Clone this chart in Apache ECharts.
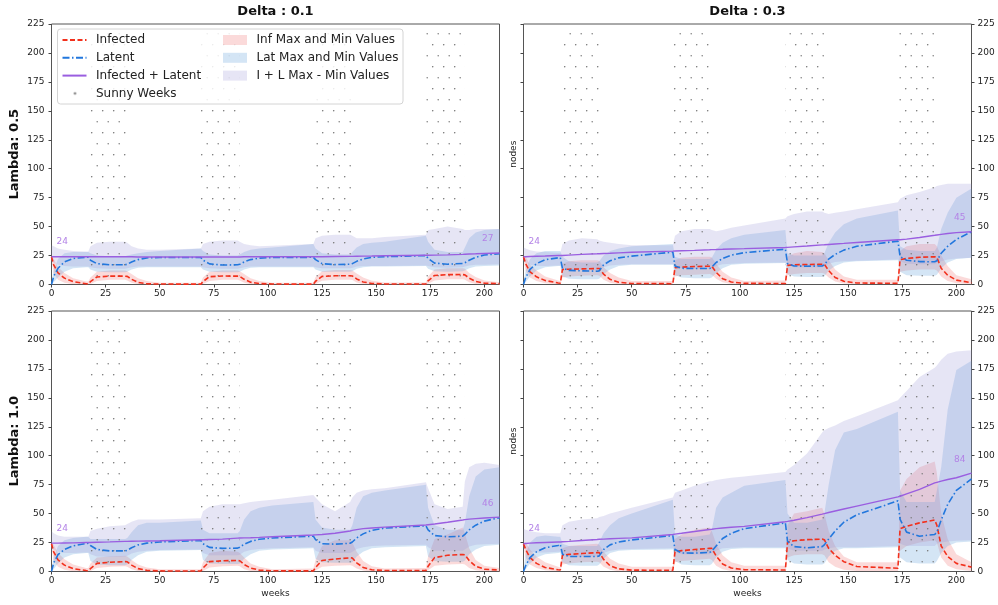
<!DOCTYPE html>
<html>
<head>
<meta charset="utf-8">
<script src="https://cdn.jsdelivr.net/npm/echarts@6/dist/echarts.min.js"></script>
<style>
html, body { margin: 0; padding: 0; background: #fff; }
#chart { width: 998px; height: 605px; }
</style>
</head>
<body>
<div id="chart"></div>
<script>
var weeks = [0, 1, 3, 6, 10, 16,
    17, 18, 21, 27, 34, 35, 37, 40, 44, 50,
    69, 70, 73, 79, 86, 87, 89, 92, 96, 102,
    121, 122, 125, 131, 138, 139, 141, 144, 148, 154,
    173, 174, 177, 183, 190, 191, 193, 196, 200, 207];

// sunny periods (weeks)
var sunnyStart = [17, 69, 121, 173];
var sunnyEnd = [35, 87, 139, 191];

var deltas = ['0.1', '0.3'];
var lambdas = ['0.5', '1.0'];
var xTicks = [0, 25, 50, 75, 100, 125, 150, 175, 200];
var yTicks = [0, 25, 50, 75, 100, 125, 150, 175, 200, 225];

// values written at the start / end of the I + L curve
var startLabel = [24, 24, 24, 24];
var endLabel = [27, 45, 46, 84];

// ---- Lambda 0.5 / Delta 0.1 ----
var infA = [24, 17, 10, 5.5, 2.5, 0.6,
    0.5, 2.5, 6.5, 7.2, 7.2, 7, 4.5, 1.8, 0.6, 0.4,
    0.3, 2.5, 6.8, 7.3, 7.2, 7, 4.5, 2, 0.8, 0.4,
    0.3, 2.8, 7, 7.5, 7.6, 7.4, 4.8, 2.2, 0.9, 0.5,
    0.4, 3.2, 7.8, 8.5, 8.6, 8.3, 5.5, 2.6, 1.2, 0.7];
var infLoA = [22, 10, 4, 1.5, 0.3, 0,
    0, 0.5, 3, 4, 4, 3.5, 1.5, 0.3, 0, 0,
    0, 0.5, 3, 4, 4, 3.5, 1.5, 0.3, 0, 0,
    0, 0.5, 3.2, 4, 4, 3.8, 1.8, 0.4, 0, 0,
    0, 0.6, 3.5, 4.5, 4.5, 4.2, 2, 0.5, 0, 0];
var infHiA = [25, 22, 15, 10, 5.5, 2.5,
    2.5, 6, 11, 12, 12, 11.5, 9, 5.5, 3, 1.5,
    1.5, 6, 11, 12, 12, 11.5, 9, 5.5, 3, 1.5,
    1.5, 6.5, 11.5, 12.5, 12.5, 12, 9.5, 6, 3.2, 1.8,
    1.8, 7, 13, 14, 14, 13.5, 10, 6.5, 3.5, 2];
var latA = [0, 7, 14, 19.5, 22.5, 23.5,
    23.5, 21, 18, 17, 17, 17.5, 19.5, 21.5, 23, 23.3,
    23.3, 21, 17.8, 16.8, 17, 17.5, 19.5, 21.5, 22.8, 23.3,
    23.5, 21.5, 18, 17.2, 17.5, 18, 20, 22, 23.5, 24,
    25, 22.5, 18.5, 17.5, 18.2, 18.8, 21, 23.5, 25.5, 26.5];
var latLoA = [0, 2, 6, 11, 14, 15,
    15, 13, 11, 10.5, 10.5, 11, 13, 14.5, 15, 15,
    15, 13, 11, 10.5, 10.5, 11, 13, 14.5, 15, 15,
    15, 13, 11, 11, 11, 11.5, 13.5, 15, 15.5, 15.5,
    16, 13.5, 11.5, 11, 11.5, 12, 14, 15.5, 16, 16.5];
var latHiA = [2, 12, 22, 27, 28, 28,
    28, 27, 25, 24.5, 24.5, 25, 26, 27, 28, 29,
    31, 29, 26, 25, 25, 26, 28, 30, 31, 32,
    35, 31, 27, 26, 26, 28, 32, 35, 36, 37,
    42, 37, 30, 28, 28, 32, 40, 45, 47, 48];
var totA = [24, 24, 24, 24, 24, 24,
    24, 24, 24, 24, 24, 24, 24, 23.8, 23.8, 23.8,
    23.8, 23.8, 23.8, 23.8, 23.8, 23.8, 24, 24, 24, 24,
    24, 24, 24, 24.2, 24.3, 24.3, 24.4, 24.5, 24.6, 24.8,
    25.3, 25.3, 25.4, 25.6, 26, 26.1, 26.3, 26.5, 26.8, 27.2];
var totLoA = [20, 19, 17, 16, 15.5, 15.5,
    15.5, 15, 14, 13.5, 13.5, 14, 15, 15.5, 15.5, 15.5,
    15.5, 15, 14, 13.5, 13.5, 14, 15, 15.5, 15.5, 15.5,
    15.5, 15, 14, 14, 14, 14.5, 15.5, 16, 16, 16,
    16.5, 16, 15, 14.5, 15, 15.5, 16.5, 17, 17, 17.5];
var totHiA = [34, 33, 31, 30, 29, 28.5,
    28.5, 33, 36, 37, 37, 36, 33, 31, 30, 30,
    31, 35, 37, 38, 38, 37, 35, 34, 33, 33.5,
    35, 40, 42, 43, 43, 42, 40, 40, 40, 41,
    43, 47, 48, 50, 48, 47, 47, 48, 48, 48];

// ---- Lambda 0.5 / Delta 0.3 ----
var infB = [24, 18, 11, 6.6, 3.5, 1.3,
    1.1, 13, 13.2, 13.5, 13.8, 13.8, 9, 4.5, 2, 0.9,
    0.7, 14.5, 15, 15.5, 15.8, 15.8, 10.5, 5, 2.2, 1,
    0.8, 16.5, 17, 17.3, 17.5, 17.5, 12, 6, 2.8, 1.3,
    1, 21.5, 22.5, 23.5, 24, 23.5, 14, 8, 3.8, 1.5];
var infLoB = [22, 12, 6, 3, 1, 0.2,
    0, 6, 7, 7.5, 8, 7.5, 4, 1.5, 0.3, 0,
    0, 7, 8, 8.5, 9, 8.5, 5, 2, 0.5, 0,
    0, 8, 9, 10, 10, 9.5, 6, 2.5, 0.8, 0.2,
    0, 11, 12, 13, 13, 12, 7, 3, 1, 0.2];
var infHiB = [25, 24, 17, 12, 7, 3.5,
    3, 18, 20, 21, 21, 20.5, 15, 10, 6, 3,
    3, 21, 23, 24, 24, 23.5, 18, 11, 6, 3,
    3.5, 24, 27, 29, 28, 27, 21, 13, 7, 4,
    4, 29, 33, 35, 35, 33, 25, 16, 8, 4.5];
var latB = [0, 6, 13, 18, 21.5, 23,
    23.2, 14, 12.2, 11.8, 11.5, 11.8, 17, 20.5, 23, 24.5,
    28, 16, 14, 13.8, 13.8, 15, 19, 22.5, 25.4, 27.5,
    30.5, 18, 16, 15.8, 16, 17, 22, 26, 29.7, 33,
    37.5, 24, 21, 19.8, 19.6, 20.5, 27, 33, 39, 45.5];
var latLoB = [0, 2, 7, 12, 15, 16,
    16, 7, 5, 4.5, 4.5, 5, 9, 13, 16, 17,
    17, 8, 6, 5.5, 5.5, 6, 10, 14, 17, 18,
    18.5, 9, 7, 6.5, 6.5, 7, 12, 16, 19, 20,
    21, 11, 8, 7.5, 7.5, 8.5, 14, 19, 22, 23];
var latHiB = [1, 12, 22, 27, 29, 29,
    29, 24, 20, 19, 19, 20, 25, 29, 31, 33,
    35, 24, 22, 22, 22, 23, 30, 36, 40, 43,
    47, 27, 25, 25, 25, 27, 36, 45, 52, 57,
    64, 33, 30, 29, 29, 32, 48, 62, 75, 83];
var totB = [24, 24, 24.2, 24.4, 24.6, 25,
    25, 25.1, 25.4, 26, 26.5, 26.6, 26.8, 27, 27.3, 27.8,
    28.8, 28.9, 29.1, 29.5, 30, 30.1, 30.2, 30.4, 30.7, 31,
    32, 32.1, 32.5, 33.2, 34.2, 34.3, 34.6, 35, 35.5, 36.3,
    38.6, 38.7, 39.2, 40.6, 42.5, 42.8, 43.3, 44, 44.8, 45.6];
var totLoB = [20, 19, 17, 16, 16, 16.5,
    16.5, 15, 13, 12.5, 12.5, 13, 15, 16.5, 17, 17.5,
    17.5, 16, 14, 13.5, 13.5, 14, 16, 17.5, 18, 18.5,
    19, 17, 15, 15, 15, 15.5, 18, 19.5, 20, 20.5,
    21.5, 20, 18, 17.5, 17.5, 18.5, 20, 21.5, 22.5, 23];
var totHiB = [32, 31, 29.5, 28.5, 28, 27.5,
    27.5, 35, 38, 40, 39, 38, 37, 36, 35, 34,
    34, 42, 46, 48, 48, 47, 46, 47, 49, 51,
    57, 59, 61, 63, 63, 62, 61, 62, 63, 65,
    71, 74, 77, 80, 84, 85, 86, 87, 87, 87];

// ---- Lambda 1.0 / Delta 0.1 ----
var infC = [24, 17, 10, 5.5, 2.5, 0.8,
    0.6, 2.5, 7, 8, 8.5, 8.4, 5.5, 2.5, 1, 0.5,
    0.4, 3, 8.5, 9.3, 9.5, 9.3, 6, 3, 1.2, 0.6,
    0.5, 3.5, 9.5, 10.8, 11.8, 11.6, 7.5, 3.5, 1.5, 0.8,
    0.8, 4.5, 12, 14, 14.7, 14.4, 9.5, 4.5, 2, 1.3];
var infLoC = [22, 10, 4, 1.5, 0.3, 0,
    0, 0.5, 3, 4, 4.5, 4, 2, 0.5, 0, 0,
    0, 0.5, 3.5, 4.5, 5, 4.5, 2, 0.5, 0, 0,
    0, 0.8, 4, 5, 5.5, 5, 2.5, 0.8, 0, 0,
    0, 1, 5, 6, 6.5, 6, 3, 1, 0.2, 0];
var infHiC = [25, 23, 16, 10.5, 6, 3,
    3, 7, 12, 13, 13.5, 13, 10, 6, 3.5, 2,
    2, 8, 16, 18, 17, 16, 12, 7, 4, 2,
    2.5, 10, 22, 27, 27, 25, 17, 9, 4.5, 2.5,
    3, 13, 28, 32, 38, 33, 20, 10, 5, 3];
var latC = [0, 7.5, 14.5, 19, 22.2, 24.2,
    24.4, 22.5, 19, 17.8, 17.8, 18.3, 20.5, 23, 24.5, 25.5,
    26.8, 24, 20.8, 20, 20.2, 21, 23.5, 26, 27.8, 29,
    30.5, 27.5, 24, 23.6, 24.4, 25.5, 29, 32.5, 35.5, 37.5,
    39.5, 36, 31, 30, 30.5, 32, 36, 40, 43.5, 46.5];
var latLoC = [0, 2, 7, 12, 15, 16,
    16, 9, 6, 5.5, 5.5, 6, 10, 14, 17, 18,
    18.5, 10, 7, 6.5, 6.5, 7, 11, 15, 18, 19,
    20, 11, 8, 7.5, 7.5, 8, 13, 17, 20, 21,
    22, 13, 9, 8.5, 8.5, 9.5, 15, 19, 22, 23];
var latHiC = [2, 12, 22, 27, 29, 30,
    30, 28, 28, 28, 28, 29, 34, 40, 42, 42,
    44, 36, 33, 33, 33, 35, 45, 52, 55, 57,
    60, 45, 38, 36, 36, 40, 55, 65, 68, 70,
    75, 55, 40, 36, 36, 42, 65, 82, 88, 90];
var totC = [24.5, 24.5, 24.5, 24.6, 24.7, 25,
    25, 25.1, 25.3, 25.6, 26, 26, 26.1, 26.2, 26.4, 26.6,
    27.4, 27.4, 27.6, 28, 28.8, 28.9, 29, 29.2, 29.5, 30,
    31.5, 31.6, 32, 33, 35, 35.5, 36.2, 37, 37.6, 38.3,
    40.2, 40.4, 41, 42.5, 44.5, 44.8, 45.2, 45.7, 46.2, 47];
var totLoC = [20, 19, 17, 16, 16, 16.5,
    16.5, 15, 13, 12.5, 13, 13.5, 15.5, 17, 18, 18.5,
    19, 16, 14, 14, 14, 14.5, 17, 18.5, 19.5, 20,
    21, 18, 16, 16, 16, 17, 19.5, 21, 22, 22.5,
    23, 21, 18, 18, 18, 19, 21.5, 23, 23.5, 24];
var totHiC = [35, 33, 31, 30, 30, 30,
    30, 35, 37, 39, 40, 41, 43, 45, 45, 45,
    46, 52, 56, 58, 58, 58, 59, 60, 61, 62,
    66, 64, 58, 52, 60, 64, 68, 70, 71, 72,
    77, 72, 58, 54, 56, 78, 90, 93, 94, 92];

// ---- Lambda 1.0 / Delta 0.3 ----
var infD = [24, 19, 12, 7, 3.5, 1.5,
    1.3, 14, 14.8, 15.5, 16.3, 16.3, 10.5, 5, 2.3, 1.2,
    1, 17, 18, 19, 20, 20, 13.5, 6.5, 3, 1.6,
    1.3, 25.5, 26.5, 27.5, 28, 27.5, 20, 14, 8.5, 4.3,
    2.8, 37, 39, 42, 44.5, 40, 22, 13, 7, 3.8];
var infLoD = [22, 12, 6, 3, 1, 0.2,
    0, 6, 7, 8, 8.5, 8, 4, 1.5, 0.3, 0,
    0, 8, 9, 10, 11, 10, 5, 2, 0.5, 0,
    0, 12, 14, 15, 15, 14, 8, 4, 1.5, 0.5,
    0.5, 18, 22, 25, 27, 25, 12, 5, 2, 0.5];
var infHiD = [25, 25, 19, 13, 8, 4,
    3.5, 20, 22, 23, 24, 23, 17, 11, 7, 4,
    4, 28, 32, 36, 38, 35, 24, 14, 8, 5,
    5, 40, 50, 52, 55, 50, 35, 22, 13, 8,
    8, 70, 80, 90, 95, 85, 50, 28, 15, 8];
var latD = [0, 5, 12, 17, 20.5, 22.5,
    23.5, 15, 13, 12.9, 12.9, 13.5, 19, 23, 25.5, 27.3,
    31, 19, 16, 15.9, 16.5, 17.5, 22, 28.5, 33, 37,
    42, 26, 21.5, 20.5, 21.5, 23, 28, 35, 42.5, 49,
    61, 45, 34, 30.5, 32, 34, 44.6, 58, 70, 80];
var latLoD = [0, 2, 7, 12, 15, 16,
    16.5, 8, 5.5, 5, 5, 6, 11, 16, 18, 18.5,
    19, 9, 6, 5.5, 5.5, 6.5, 12, 17, 19.5, 20,
    20, 10, 7, 6, 6, 7, 13, 18, 20, 20,
    21, 12, 8, 7, 7, 9, 16, 22, 25, 26];
var latHiD = [1, 15, 25, 30, 31, 30,
    30, 24, 22, 22, 22, 25, 33, 40, 46, 50,
    62, 32, 30, 30, 32, 36, 55, 64, 68, 74,
    79, 50, 42, 42, 45, 50, 75, 105, 120, 123,
    138, 70, 60, 60, 60, 70, 90, 140, 174, 182];
var totD = [24, 24.2, 24.5, 24.8, 25.1, 25.5,
    25.5, 25.7, 26, 26.8, 27.6, 27.8, 28, 28.3, 28.6, 29,
    32, 32.3, 33, 34.5, 36.3, 36.5, 37, 37.6, 38.2, 39,
    43, 43.3, 44.3, 46.5, 49.5, 50, 51, 52.3, 54, 56.5,
    64.5, 65, 67, 71, 76.5, 77, 78, 79.5, 81, 85];
var totLoD = [20, 19, 17, 16.5, 16.5, 17,
    17, 15, 13, 13, 13, 14, 16, 18, 19, 19.5,
    20, 17, 15, 15, 15, 16, 18, 20, 20.5, 21,
    21, 20, 18, 18, 18, 19, 20, 21, 21, 21,
    22, 24, 22, 22, 22, 24, 25, 26, 26.5, 27];
var totHiD = [37, 36, 35, 34, 33, 33,
    33, 40, 43, 45, 46, 47, 48, 50, 52, 55,
    64, 68, 70, 74, 78, 78, 79, 80, 81, 82,
    86, 88, 92, 102, 120, 122, 124, 126, 130, 134,
    148, 150, 156, 168, 176, 178, 183, 188, 190, 191];

//面板顺序：左上、右上、左下、右下
var panels = [
    {inf: infA, infLo: infLoA, infHi: infHiA, lat: latA, latLo: latLoA, latHi: latHiA, tot: totA, totLo: totLoA, totHi: totHiA},
    {inf: infB, infLo: infLoB, infHi: infHiB, lat: latB, latLo: latLoB, latHi: latHiB, tot: totB, totLo: totLoB, totHi: totHiB},
    {inf: infC, infLo: infLoC, infHi: infHiC, lat: latC, latLo: latLoC, latHi: latHiC, tot: totC, totLo: totLoC, totHi: totHiC},
    {inf: infD, infLo: infLoD, infHi: infHiD, lat: latD, latLo: latLoD, latHi: latHiD, tot: totD, totLo: totLoD, totHi: totHiD}
];

var FONT = 'DejaVu Sans';
var C_INF = '#f2301c', C_LAT = '#2277dd', C_TOT = '#9a5ee0', C_NOTE = '#b383e6';
var F_INF = 'rgba(240,100,100,0.24)', F_LAT = 'rgba(100,160,220,0.28)', F_TOT = 'rgba(155,150,215,0.25)';

// hatch tile for sunny weeks (staggered dots)
var tile = document.createElement('canvas');
tile.width = 11; tile.height = 22;
var tc = tile.getContext('2d');
tc.fillStyle = '#7a7a7a';
[[3.7, 0.7], [3.7, 22.7], [9.2, 11.7]].forEach(function (d) {
    tc.beginPath(); tc.arc(d[0], d[1], 0.75, 0, Math.PI * 2); tc.fill();
});
var hatch = {image: tile, repeat: 'repeat'};

// legend icon for the hatch: a single dot
var dotIcon = document.createElement('canvas');
dotIcon.width = 24; dotIcon.height = 10;
var dc = dotIcon.getContext('2d');
dc.fillStyle = '#777';
dc.beginPath(); dc.arc(12.5, 5, 1.2, 0, Math.PI * 2); dc.fill();

var gridPos = [
    {left: 51.5, top: 24},
    {left: 523.5, top: 24},
    {left: 51.5, top: 311},
    {left: 523.5, top: 311}
];

var chart = echarts.init(document.getElementById('chart'));

function pairs(vals) {
    return weeks.map(function (w, i) { return [w, vals[i]]; });
}

function bandSeries(name, p, lo, hi, color) {
    return {
        type: 'custom', name: name, xAxisIndex: p, yAxisIndex: p,
        data: [[weeks[0], lo[0]]], clip: true, silent: true, z: 1,
        itemStyle: {color: color},
        renderItem: function (params, api) {
            var pts = [];
            for (var i = 0; i < weeks.length; i++) pts.push(api.coord([weeks[i], hi[i]]));
            for (var j = weeks.length - 1; j >= 0; j--) pts.push(api.coord([weeks[j], lo[j]]));
            return {type: 'polygon', shape: {points: pts}, style: {fill: color}};
        }
    };
}

function lineSeries(name, p, vals, color, type, width) {
    return {
        type: 'line', name: name, xAxisIndex: p, yAxisIndex: p,
        data: pairs(vals), symbol: 'none', z: 4, silent: true,
        itemStyle: {color: color},
        lineStyle: {color: color, type: type, width: width}
    };
}

var series = [];
panels.forEach(function (d, p) {
    series.push(bandSeries('Inf Max and Min Values', p, d.infLo, d.infHi, F_INF));
    series.push(bandSeries('Lat Max and Min Values', p, d.latLo, d.latHi, F_LAT));
    series.push(bandSeries('I + L Max - Min Values', p, d.totLo, d.totHi, F_TOT));
    series.push({
        type: 'custom', name: 'Sunny Weeks', xAxisIndex: p, yAxisIndex: p, z: 2, silent: true,
        itemStyle: {color: '#777'},
        data: sunnyStart.map(function (s, i) { return [s, sunnyEnd[i]]; }),
        renderItem: function (params, api) {
            var a = api.coord([api.value(0), 0]);
            var b = api.coord([api.value(1), 0]);
            var cs = params.coordSys;
            return {type: 'rect', shape: {x: a[0], y: cs.y, width: b[0] - a[0], height: cs.height},
                style: {fill: hatch}};
        }
    });
    series.push(lineSeries('Infected', p, d.inf, C_INF, [5, 2.5], 1.6));
    series.push(lineSeries('Latent', p, d.lat, C_LAT, [7, 2.5, 1.5, 2.5], 1.6));
    series.push(lineSeries('Infected + Latent', p, d.tot, C_TOT, 'solid', 1.4));
    var last = weeks.length - 1;
    series.push({
        type: 'custom', xAxisIndex: p, yAxisIndex: p, z: 5, silent: true,
        data: [[weeks[0], startLabel[p], 0], [weeks[last], endLabel[p], 1]],
        renderItem: function (params, api) {
            var pt = api.coord([api.value(0), api.value(1)]);
            var atEnd = api.value(2) === 1;
            return {
                type: 'text', x: pt[0] + (atEnd ? -6 : 5), y: pt[1] - 15,
                style: {text: String(api.value(1)), fill: C_NOTE, fontSize: 9, fontFamily: FONT,
                    align: atEnd ? 'right' : 'left', verticalAlign: 'middle'}
            };
        }
    });
});

var tickLine = {color: '#444', width: 1};
var labelStyle = {fontSize: 9, color: '#222', fontFamily: FONT};

var xAxes = [], yAxes = [];
gridPos.forEach(function (g, p) {
    xAxes.push({
        type: 'value', gridIndex: p, min: 0, max: 207,
        axisLine: {show: false}, splitLine: {show: false},
        axisTick: {show: true, length: 3, lineStyle: tickLine, customValues: xTicks},
        axisLabel: Object.assign({margin: 5, customValues: xTicks}, labelStyle),
        name: p >= 2 ? 'weeks' : '', nameLocation: 'middle', nameGap: 18,
        nameTextStyle: {fontSize: 9, color: '#222', fontFamily: FONT}
    });
    yAxes.push({
        type: 'value', gridIndex: p, min: 0, max: 225, interval: 25, position: 'left',
        axisLine: {show: false}, splitLine: {show: false},
        axisTick: {show: true, length: 3, lineStyle: tickLine, customValues: yTicks},
        axisLabel: Object.assign({show: p % 2 === 0, margin: 7, customValues: yTicks}, labelStyle),
        name: p % 2 === 0 ? 'Lambda: ' + lambdas[p >> 1] : 'nodes',
        nameLocation: 'middle', nameGap: p % 2 === 0 ? 30 : 5,
        nameTextStyle: p % 2 === 0
            ? {fontSize: 13, fontWeight: 'bold', color: '#111', fontFamily: FONT}
            : {fontSize: 9, color: '#222', fontFamily: FONT}
    });
});
// right-hand value axes of the right column
[1, 3].forEach(function (p) {
    yAxes.push({
        type: 'value', gridIndex: p, min: 0, max: 225, interval: 25, position: 'right',
        axisLine: {show: false}, splitLine: {show: false},
        axisTick: {show: true, length: 3, lineStyle: tickLine, customValues: yTicks},
        axisLabel: Object.assign({margin: 6, customValues: yTicks}, labelStyle)
    });
});

var legendText = {fontSize: 12, color: '#222', fontFamily: FONT, lineHeight: 14, padding: [0, 0, 0, 4.5]};

var option = {
    animation: false,
    backgroundColor: '#fff',
    title: deltas.map(function (dl, i) {
        return {
            text: 'Delta : ' + dl, left: i === 0 ? 275.5 : 747.5, top: 5, padding: 0, textAlign: 'center',
            textStyle: {fontSize: 13, fontWeight: 'bold', color: '#111', fontFamily: FONT}
        };
    }),
    grid: gridPos.map(function (g) {
        return {left: g.left, top: g.top, width: 448, height: 260.5, show: true,
            borderColor: '#555', borderWidth: 1, backgroundColor: 'transparent', outerBoundsMode: 'none'};
    }),
    legend: [{
        left: 61.5, top: 33, padding: 0, orient: 'vertical', itemWidth: 24, itemHeight: 10, itemGap: 3.8,
        selectedMode: false, z: 11, itemStyle: {opacity: 0},
        textStyle: legendText,
        data: ['Infected', 'Latent', 'Infected + Latent',
            {name: 'Sunny Weeks', icon: 'image://' + dotIcon.toDataURL(), itemStyle: {opacity: 1}}]
    }, {
        left: 223, top: 33, padding: 0, orient: 'vertical', itemWidth: 24, itemHeight: 10, itemGap: 3.8,
        selectedMode: false, z: 11, icon: 'rect',
        textStyle: legendText,
        data: ['Inf Max and Min Values', 'Lat Max and Min Values', 'I + L Max - Min Values']
    }],
    graphic: [{
        type: 'rect', z: 10, silent: true,
        shape: {x: 57.5, y: 29, width: 345.5, height: 75, r: 3},
        style: {fill: 'rgba(255,255,255,0.85)', stroke: '#d4d4d4', lineWidth: 1}
    }],
    xAxis: xAxes,
    yAxis: yAxes,
    series: series
};

chart.setOption(option);
</script>
</body>
</html>
